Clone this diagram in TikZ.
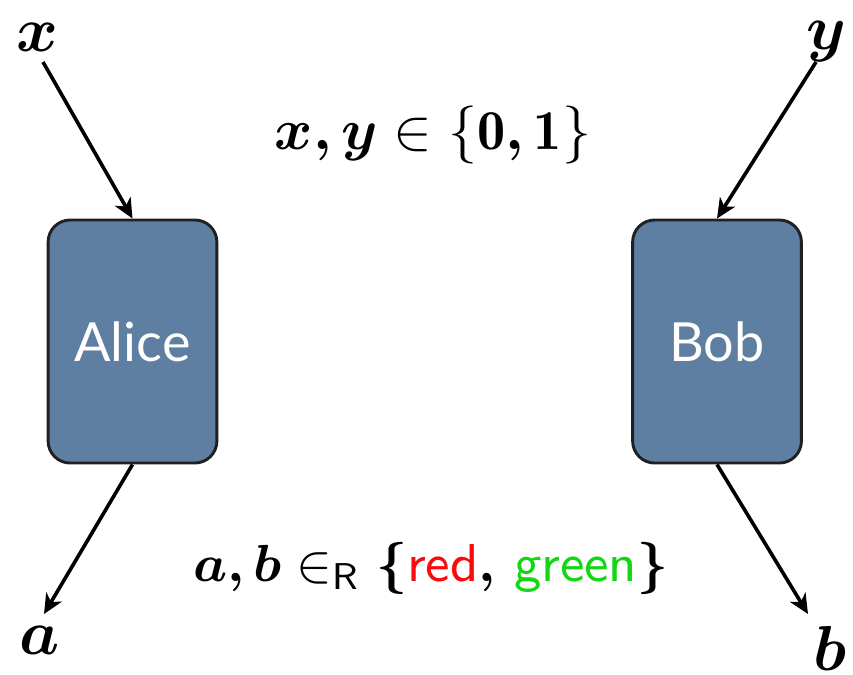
\documentclass[tikz,border=0pt]{standalone}
\usepackage{amsmath}
\usepackage{fontspec}
\newfontfamily\boxfont{Lato}
\usetikzlibrary{arrows.meta}
\definecolor{boxblue}{RGB}{94,126,162}
\definecolor{boxedge}{RGB}{30,32,36}
\definecolor{brightgreen}{RGB}{20,215,20}
\definecolor{brightred}{RGB}{250,10,10}
\tikzset{
  player/.style={draw=boxedge, line width=0.5pt, fill=boxblue, rounded corners=3.8pt,
    minimum width=29.1pt, minimum height=41.9pt, inner sep=0pt,
    text=white, font=\boxfont\fontsize{9.3}{10}\selectfont},
  lbl/.style={inner sep=0pt, font=\fontsize{10.5}{12}\selectfont},
  eqn/.style={inner sep=0pt, font=\fontsize{9.2}{11}\selectfont},
  wire/.style={line width=0.62pt, -{Stealth[length=3.4pt,width=3.1pt,inset=1pt]}}
}
\begin{document}
\begin{tikzpicture}[x=0.1724pt,y=-0.1724pt]
\useasboundingbox (0,0) rectangle (853,674);
\node[player] (alice) at (132.5,341.5) {Alice};
\node[player] (bob) at (717,341.5) {Bob};
\node[lbl] (inx) at (37,37) {$\boldsymbol{x}$};
\node[lbl] (iny) at (826,42) {$\boldsymbol{y}$};
\node[lbl] (outa) at (40,640) {$\boldsymbol{a}$};
\node[lbl] (outb) at (830,648) {$\boldsymbol{b}$};
\node[eqn, font=\fontsize{9.7}{11}\selectfont] (inset) at (433,135) {$\boldsymbol{x,}\,\boldsymbol{y} \in \{\mathbf{0}\boldsymbol{,}\,\mathbf{1}\}$};
\node[eqn] (outset) at (431,568) {$\boldsymbol{a,}\,\boldsymbol{b} \in_{\textsf{R}} \boldsymbol{\{}\textsf{\color{brightred}red}\boldsymbol{,}\ \textsf{\color{brightgreen}green}\boldsymbol{\}}$};
\coordinate (xs) at (43,62);
\coordinate (ys) at (816,62);
\coordinate (ae) at (44,614);
\coordinate (be) at (808,614);
\draw[wire] (xs) -- (alice.north);
\draw[wire] (ys) -- (bob.north);
\draw[wire] (alice.south) -- (ae);
\draw[wire] (bob.south) -- (be);
\end{tikzpicture}
\end{document}
